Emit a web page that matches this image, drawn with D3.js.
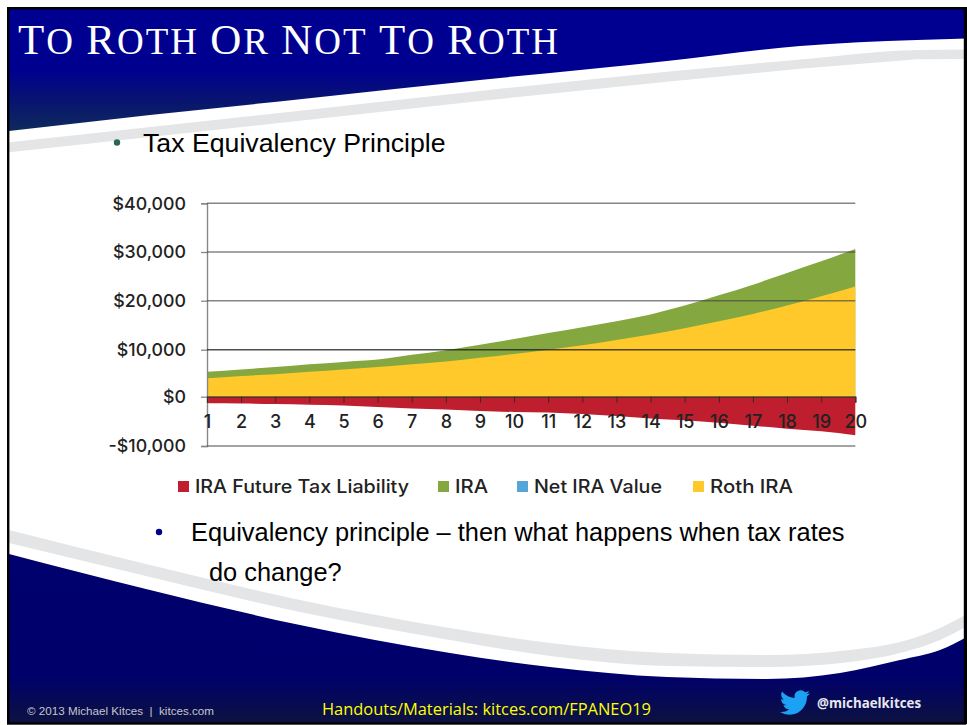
<!DOCTYPE html>
<html><head><meta charset="utf-8">
<script src="https://cdnjs.cloudflare.com/ajax/libs/d3/7.9.0/d3.min.js"></script>
<style>html,body{margin:0;padding:0;background:#fff}svg{display:block}
.chartText{font-family:Inter,"Open Sans",sans-serif;font-weight:500;fill:#222}</style>
</head><body><div id="c"></div>
<script>
const years = d3.range(1, 21).map(String);
const iraValues = [5300,5800,6300,6900,7400,7900,8900,9900,11000,12200,13400,14600,15800,17200,19000,21100,23300,25700,28100,30600];
const rothValues = [3900,4400,4800,5300,5800,6300,6900,7500,8300,9100,10000,10900,12000,13100,14400,15800,17300,19000,20900,22900];
const taxValues = [-1350,-1400,-1500,-1650,-1800,-2100,-2400,-2600,-2900,-3100,-3200,-3500,-3900,-4400,-4800,-5300,-5900,-6500,-7000,-7800];
const yTicks = [-10000,0,10000,20000,30000,40000];
const legendItems = ["IRA Future Tax Liability","IRA","Net IRA Value","Roth IRA"];
const legendColors = ["#be1e2d","#84a83f","#56a5d8","#ffc92b"];
const legendWidths = [214,33,128,83];

// slide artwork outlines
const topEdge = [[9,131],[150,115],[300,99.3],[480,80],[667,61],[800,46],[917,40],[967,38.5]];
const bandTopTop = [[9,142.3],[150,127],[300,110.7],[480,91],[667,71.7],[800,59.5],[917,50],[967,49.5]];
const bandTopBottom = [[9,152.3],[150,137],[300,120.7],[480,101],[667,81.7],[800,68.7],[917,59.3],[967,59]];
const bottomEdge = [[9,554],[150,590],[300,625],[450,653],[550,667],[667,677],[767,679],[840,673],[900,660],[940,650],[967,637]];
const bandBotTop = [[9,530],[150,565],[300,600],[450,628],[550,643],[667,653],[767,655],[850,650],[900,642],[940,628],[967,614]];
const bandBotBottom = [[9,543],[150,577],[300,612],[450,640],[550,656],[667,666],[767,667],[850,662],[900,653],[940,640],[967,626]];

const W = 967, H = 725;
const svg = d3.select("#c").append("svg").attr("width", W).attr("height", H);
const defs = svg.append("defs");
function grad(id, stops){
  const g = defs.append("linearGradient").attr("id", id).attr("x1",0).attr("y1",0).attr("x2",0).attr("y2",1);
  stops.forEach(s => g.append("stop").attr("offset", s[0]).attr("stop-color", s[1]));
}
grad("gTop", [[0,"#000090"],[0.5,"#000090"],[0.75,"#081470"],[1,"#0e2a5c"]]);
grad("gBot", [[0,"#00006e"],[0.72,"#00006b"],[1,"#0c1240"]]);

const curve = d3.line().curve(d3.curveMonotoneX);
svg.append("rect").attr("width",W).attr("height",H).attr("fill","#fff");
svg.append("path").attr("d", curve(topEdge)+"L967,9L9,9Z").attr("fill","url(#gTop)");
svg.append("path").attr("d", curve(bandTopTop)+"L"+bandTopBottom.slice().reverse().map(p=>p.join(",")).join("L")+"Z").attr("fill","#e4e5e7");
svg.append("path").attr("d", curve(bottomEdge)+"L967,723L9,723Z").attr("fill","url(#gBot)");
svg.append("path").attr("d", curve(bandBotTop)+"L"+curve(bandBotBottom.slice().reverse()).slice(1)+"Z").attr("fill","#e4e5e7");
svg.append("rect").attr("x",8.2).attr("y",8.2).attr("width",956.8).attr("height",715.3).attr("fill","none").attr("stroke","#000").attr("stroke-width",2.4);
svg.append("rect").attr("x",964).attr("y",7).attr("width",3).attr("height",717).attr("fill","#000");

// title: large initials, small caps for the rest
const titleText = "To Roth Or Not To Roth";
const title = svg.append("text").attr("x",18).attr("y",54).attr("textLength",540).attr("lengthAdjust","spacing")
  .style("font-family","'Liberation Serif',serif").attr("fill","#fff");
title.selectAll("tspan").data(titleText.split("")).join("tspan")
  .style("font-size",d=>(d===d.toUpperCase()&&d!==" ")?"43px":"37px")
  .text(d=>(d===" ")?"\u00a0":d.toUpperCase());

// body text
const bodyFont = "'Liberation Sans',Arial,sans-serif";
svg.append("circle").attr("cx",117).attr("cy",142.5).attr("r",3.2).attr("fill","#2a6657");
svg.append("text").attr("x",143).attr("y",152).style("font-family",bodyFont).style("font-size","26.7px").attr("fill","#000").text("Tax Equivalency Principle");
svg.append("circle").attr("cx",159).attr("cy",532).attr("r",3.2).attr("fill","#000090");
svg.append("text").attr("x",191).attr("y",541).style("font-family",bodyFont).style("font-size","25.4px").attr("fill","#000").text("Equivalency principle – then what happens when tax rates");
svg.append("text").attr("x",209).attr("y",581).style("font-family",bodyFont).style("font-size","25.4px").attr("fill","#000").text("do change?");

// chart
const x = d3.scalePoint().domain(years).range([207,855.3]);
const y = d3.scaleLinear().domain(yTicks).range([446,396.7,349.7,300.7,252,203.3]);
const area = d3.area().x((d,i)=>x(years[i])).y0(y(0)).y1(d=>y(d)).curve(d3.curveMonotoneX);
const chart = svg.append("g");
chart.append("path").attr("d", area(iraValues)).attr("fill", legendColors[1]);
chart.append("path").attr("d", area(rothValues)).attr("fill", legendColors[3]);
chart.append("path").attr("d", area(taxValues)).attr("fill", legendColors[0]);

const fmt = d => (d<0?"-":"")+"$"+d3.format(",")(Math.abs(d));
const yAxis = d3.axisLeft(y).tickValues(yTicks).tickFormat(fmt).tickSize(6).tickPadding(15);
const yG = chart.append("g").attr("transform","translate(207,0)").call(yAxis);
yG.select(".domain").attr("stroke","#888").attr("stroke-width",1.4);
yG.selectAll(".tick line").attr("stroke","#888").attr("stroke-width",1.3);
yG.selectAll("text").attr("class","chartText").style("font-size","17.8px");
const gridVals = yTicks.filter(d=>d!==0);
chart.append("g").selectAll("line").data(gridVals).join("line")
  .attr("x1",207).attr("x2",855.3).attr("y1",d=>y(d)).attr("y2",d=>y(d))
  .attr("stroke",d=>d===10000?"#222":"#444").attr("stroke-opacity",d=>d===10000?0.8:0.65).attr("stroke-width",1.4);

const xAxis = d3.axisBottom(x).tickSize(6).tickPadding(13);
const xG = chart.append("g").attr("transform",`translate(0,${y(0)})`).call(xAxis);
xG.select(".domain").attr("stroke","#333").attr("stroke-width",1.2);
xG.selectAll(".tick line").attr("stroke","#3a2a20").attr("stroke-width",1);
xG.selectAll("text").attr("class","chartText").style("font-size","18px");

// legend
const legX = [178,438,517,693], legTextX = [195,455,534,710];
const leg = chart.append("g").selectAll("g").data(legendItems).join("g");
leg.append("rect").attr("x",(d,i)=>legX[i]).attr("y",481).attr("width",11).attr("height",11).attr("fill",(d,i)=>legendColors[i]);
leg.append("text").attr("class","chartText").attr("x",(d,i)=>legTextX[i]).attr("y",493)
  .attr("textLength",(d,i)=>legendWidths[i]).attr("lengthAdjust","spacingAndGlyphs").style("font-size","18px").text(d=>d);

// footer
svg.append("text").attr("x",27).attr("y",715).attr("textLength",187).attr("lengthAdjust","spacingAndGlyphs").style("white-space","pre").style("font-family",bodyFont).style("font-size","11.3px").attr("fill","#c4c6cc").text("© 2013 Michael Kitces  |  kitces.com");
svg.append("text").attr("x",322).attr("y",715).attr("textLength",329).attr("lengthAdjust","spacingAndGlyphs").style("font-family","'Open Sans',sans-serif").style("font-size","16.5px").attr("fill","#ffff00").text("Handouts/Materials: kitces.com/FPANEO19");
svg.append("text").attr("x",817).attr("y",708).attr("textLength",104).attr("lengthAdjust","spacingAndGlyphs").style("font-family","'Open Sans',sans-serif").style("font-weight","700").style("font-size","13.5px").attr("fill","#e6e8ee").text("@michaelkitces");
svg.append("path").attr("transform","translate(780,687.5) scale(1.25)").attr("fill","#1da1f2")
  .attr("d","M23.953 4.57a10 10 0 01-2.825.775 4.958 4.958 0 002.163-2.723c-.951.555-2.005.959-3.127 1.184a4.92 4.92 0 00-8.384 4.482C7.69 8.095 4.067 6.13 1.64 3.162a4.822 4.822 0 00-.666 2.475c0 1.71.87 3.213 2.188 4.096a4.904 4.904 0 01-2.228-.616v.06a4.923 4.923 0 003.946 4.827 4.996 4.996 0 01-2.212.085 4.936 4.936 0 004.604 3.417 9.867 9.867 0 01-6.102 2.105c-.39 0-.779-.023-1.17-.067a13.995 13.995 0 007.557 2.209c9.053 0 13.998-7.496 13.998-13.985 0-.21 0-.42-.015-.63A9.935 9.935 0 0024 4.59z");
</script></body></html>
